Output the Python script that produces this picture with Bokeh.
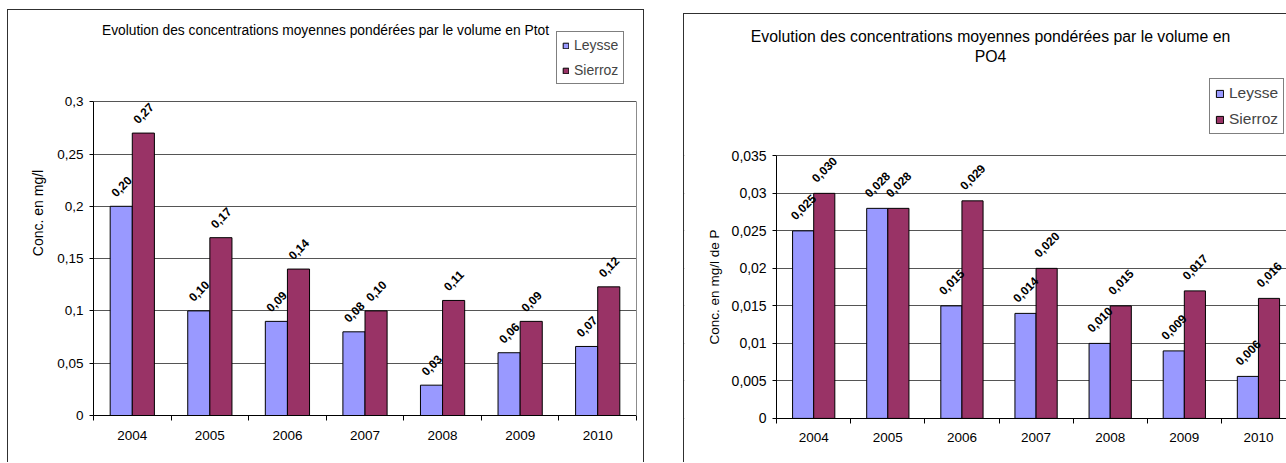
import math
from bokeh.plotting import figure
from bokeh.models import (Range1d, FixedTicker, Label, Legend, LegendItem,
                          ColumnDataSource, Row, LinearAxis, BoxAnnotation)
from bokeh.transform import dodge
from bokeh.core.properties import value
from bokeh.embed import file_html
from bokeh.resources import INLINE

# ---------------- data ----------------
years = ["2004", "2005", "2006", "2007", "2008", "2009", "2010"]
series = ["Leysse", "Sierroz"]

ptot_leysse = [0.200, 0.100, 0.090, 0.080, 0.029, 0.060, 0.066]
ptot_sierroz = [0.270, 0.170, 0.140, 0.100, 0.110, 0.090, 0.123]

po4_leysse = [0.025, 0.028, 0.015, 0.014, 0.010, 0.009, 0.0056]
po4_sierroz = [0.030, 0.028, 0.029, 0.020, 0.015, 0.017, 0.016]

ptot_ticks = [0, 0.05, 0.1, 0.15, 0.2, 0.25, 0.3]
ptot_tick_labels = ["0", "0,05", "0,1", "0,15", "0,2", "0,25", "0,3"]
po4_ticks = [0, 0.005, 0.01, 0.015, 0.02, 0.025, 0.03, 0.035]
po4_tick_labels = ["0", "0,005", "0,01", "0,015", "0,02", "0,025", "0,03", "0,035"]

ptot_title = ["Evolution des concentrations moyennes pondérées par le volume en Ptot"]
po4_title = ["Evolution des concentrations moyennes pondérées par le volume en", "PO4"]
ptot_ylabel = "Conc. en mg/l"
po4_ylabel = "Conc. en mg/l de P"

FONT = "Liberation Sans"
C_LEYSSE = "#9999FF"
C_SIERROZ = "#993366"
BORDER = "1px solid #303030"


def fmt(v, nd):
    return f"{v:.{nd}f}".replace(".", ",")


def make_chart(leysse, sierroz, ticks, tick_labels, title_lines, ylabel, nd,
               width, height, mb, x_range, y_range, title_pos, title_size, title_gap,
               legend_pos, legend_font, glyph_size, legend_pad, legend_spacing,
               legend_lh, lbl_offset, ytick_size, ylabel_size, ylabel_standoff,
               right_edge, inner_axis, styles, margin):
    p = figure(width=width, height=height, output_backend="svg",
               toolbar_location=None,
               x_range=Range1d(*x_range),
               y_range=Range1d(*y_range),
               min_border_left=mb[0], min_border_right=mb[1],
               min_border_top=mb[2], min_border_bottom=mb[3],
               background_fill_color="white", border_fill_color="white",
               styles=styles, margin=margin)
    p.frame_align = False
    p.outline_line_color = None

    idx = list(range(len(years)))
    x_lo = idx[0] - 0.5

    # grid
    p.xgrid.visible = False
    p.ygrid.ticker = FixedTicker(ticks=ticks)
    p.ygrid.grid_line_color = "#555555"
    p.ygrid.grid_line_width = 1
    if inner_axis:
        # keep grid lines inside the plot area only
        p.add_layout(BoxAnnotation(right=x_lo, fill_color="white", fill_alpha=1,
                                   line_color=None, level="underlay"))

    src = ColumnDataSource(dict(
        x=idx, leysse=leysse, sierroz=sierroz,
        lab_l=[fmt(v, nd) for v in leysse],
        lab_s=[fmt(v, nd) for v in sierroz],
    ))
    bw = 0.285
    r1 = p.vbar(x=dodge("x", -bw / 2, range=p.x_range), top="leysse", width=bw,
                source=src, fill_color=C_LEYSSE, line_color="black", line_width=1)
    r2 = p.vbar(x=dodge("x", bw / 2, range=p.x_range), top="sierroz", width=bw,
                source=src, fill_color=C_SIERROZ, line_color="black", line_width=1)

    for col, off, lab in (("leysse", -bw / 2, "lab_l"), ("sierroz", bw / 2, "lab_s")):
        p.text(x=dodge("x", off, range=p.x_range), y=col, text=lab, source=src,
               angle=math.pi / 4, text_align="center", text_baseline="middle",
               y_offset=lbl_offset, text_font=value(FONT),
               text_font_style="bold", text_font_size="12px", text_color="black")

    # y axis
    ya = p.yaxis[0]
    if inner_axis:
        ya.fixed_location = x_lo
    ya.bounds = (ticks[0], ticks[-1])
    ya.ticker = FixedTicker(ticks=ticks)
    ya.major_label_overrides = {t: s for t, s in zip(ticks, tick_labels)}
    ya.major_tick_in = 0
    ya.major_tick_out = 4
    ya.minor_tick_line_color = None
    ya.major_label_standoff = 6
    ya.major_label_text_font = FONT
    ya.major_label_text_font_size = ytick_size
    ya.major_label_text_color = "black"
    ya.axis_line_color = "black"
    ya.axis_label = ylabel
    ya.axis_label_text_font = FONT
    ya.axis_label_text_font_style = "normal"
    ya.axis_label_text_font_size = ylabel_size
    ya.axis_label_text_color = "black"
    ya.axis_label_standoff = ylabel_standoff

    # right edge of the plot area (grey)
    if right_edge:
        ra = LinearAxis(bounds=(ticks[0], ticks[-1]), ticker=FixedTicker(ticks=[]),
                        axis_line_color="#8c8c8c", major_tick_line_color=None,
                        minor_tick_line_color=None, major_label_text_alpha=0)
        p.add_layout(ra, "right")

    # x axis
    xa = p.xaxis[0]
    if inner_axis:
        xa.fixed_location = ticks[0]
    xa.bounds = (x_lo, x_range[1])
    xa.ticker = FixedTicker(ticks=idx, minor_ticks=[i - 0.5 for i in range(len(years) + 1)])
    xa.major_label_overrides = {i: y for i, y in zip(idx, years)}
    xa.major_tick_line_color = None
    xa.minor_tick_line_color = "black"
    xa.minor_tick_in = 0
    xa.minor_tick_out = 5
    xa.major_label_standoff = 9
    xa.major_label_text_font = FONT
    xa.major_label_text_font_size = "13.5px"
    xa.major_label_text_color = "black"
    xa.axis_line_color = "black"

    # title (labels in screen units relative to the frame)
    for i, line in enumerate(title_lines):
        p.add_layout(Label(x=title_pos[0], y=title_pos[1] - i * title_gap,
                           x_units="screen", y_units="screen", text=line,
                           text_align="center", text_baseline="middle",
                           text_font=FONT, text_font_size=title_size,
                           text_color="black"))

    legend = Legend(items=[LegendItem(label=series[0], renderers=[r1]),
                           LegendItem(label=series[1], renderers=[r2])],
                    location=legend_pos, margin=0, padding=legend_pad,
                    spacing=legend_spacing, label_height=legend_lh,
                    glyph_width=glyph_size, glyph_height=glyph_size,
                    label_standoff=5, label_text_font=FONT,
                    label_text_font_size=legend_font,
                    border_line_color="black", border_line_width=1,
                    background_fill_color="white", background_fill_alpha=1)
    p.add_layout(legend, "center")
    return p


p1 = make_chart(ptot_leysse, ptot_sierroz, ptot_ticks, ptot_tick_labels,
                ptot_title, ptot_ylabel, 2,
                width=637, height=453, mb=(85, 9, 0, 48), x_range=(-0.5, 6.5),
                y_range=(0, 0.3872),
                title_pos=(232, 385.5), title_size="13.8px", title_gap=20,
                legend_pos=(463, 331), legend_font="14px", glyph_size=7,
                legend_pad=5, legend_spacing=9, legend_lh=16,
                lbl_offset=-20, ytick_size="13.5px", ylabel_size="14px",
                ylabel_standoff=8,
                right_edge=True, inner_axis=False,
                styles={"border-top": BORDER, "border-left": BORDER, "border-right": BORDER},
                margin=(9, 0, 0, 7))

p2 = make_chart(po4_leysse, po4_sierroz, po4_ticks, po4_tick_labels,
                po4_title, po4_ylabel, 3,
                width=603, height=449, mb=(0, 0, 0, 0), x_range=(-1.743, 6.392),
                y_range=(-0.00601, 0.05384),
                title_pos=(306, 427), title_size="15.8px", title_gap=20,
                legend_pos=(525, 329), legend_font="15.5px", glyph_size=9,
                legend_pad=5, legend_spacing=8, legend_lh=17,
                lbl_offset=-24, ytick_size="14px", ylabel_size="13.5px",
                ylabel_standoff=6,
                right_edge=False, inner_axis=True,
                styles={"border-top": BORDER, "border-left": BORDER},
                margin=(13, 0, 0, 0))

layout = Row(children=[p1, p2], spacing=39)

open("out.html", "w").write(file_html(layout, INLINE))
